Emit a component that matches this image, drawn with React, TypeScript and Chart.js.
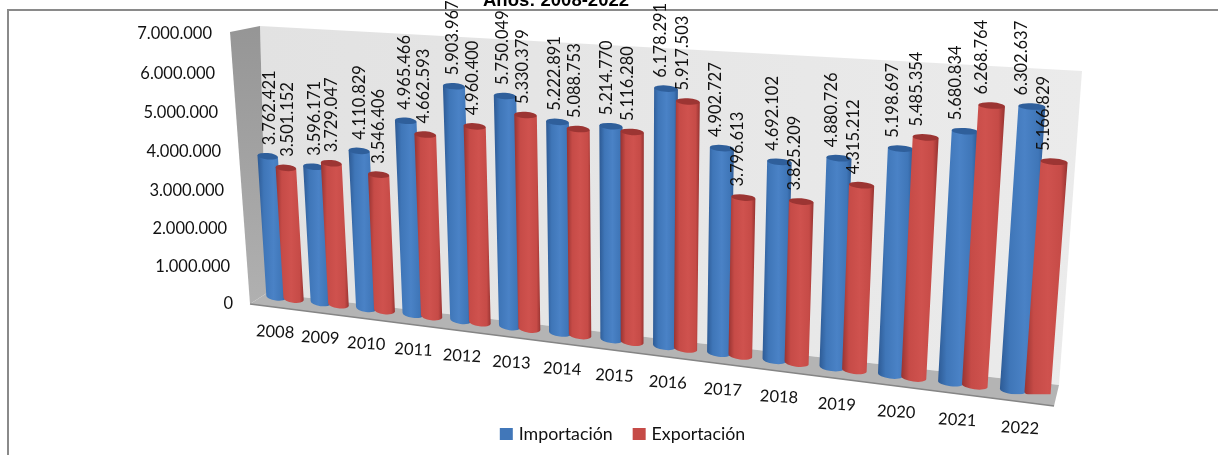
import React, { useEffect, useRef } from "react";
import { Chart, registerables, BarController } from "chart.js";

const years = ["2008","2009","2010","2011","2012","2013","2014","2015","2016","2017","2018","2019","2020","2021","2022"];
const importacion = [3762421,3596171,4110829,4965466,5903967,5750049,5222891,5214770,6178291,4902727,4692102,4880726,5198697,5680834,6302637];
const exportacion = [3501152,3729047,3546406,4662593,4960400,5330379,5088753,5116280,5917503,3796613,3825209,4315212,5485354,6268764,5166829];
const titleText = "Años: 2008-2022";
const seriesNames = ["Importación", "Exportación"];
const axisMax = 7000000;
const axisStep = 1000000;

const FONT = "Lato, Carlito, sans-serif";
const TEXT = "#111111";

// Projected corners of the plane holding the columns: TL, TR, BR, BL
const PLANE = [[246, 29], [1081, 76], [1057, 396], [263, 295]];
// Box of the 3-D chart
const BACK = [[260, 26], [1082, 71], [1059, 385], [267, 293]];
const SIDE = [[230, 32], [260, 26], [267, 293], [250, 304]];
const FLOOR = [[250, 304], [267, 293], [1059, 385], [1054, 406]];

const PAL: Record<string, { light: string; mid: string; dark: string; cap: string }> = {
  blue: { light: "#4a82c6", mid: "#3f76b8", dark: "#2d5a94", cap: "#2f5f9b" },
  red: { light: "#cf524e", mid: "#c64b47", dark: "#973331", cap: "#9c3533" },
};

function makeH(q: number[][]) {
  const [[x0, y0], [x1, y1], [x2, y2], [x3, y3]] = q;
  const dx1 = x1 - x2, dx2 = x3 - x2, sx = x0 - x1 + x2 - x3;
  const dy1 = y1 - y2, dy2 = y3 - y2, sy = y0 - y1 + y2 - y3;
  const den = dx1 * dy2 - dx2 * dy1;
  const g = (sx * dy2 - dx2 * sy) / den;
  const h = (dx1 * sy - sx * dy1) / den;
  const a = x1 - x0 + g * x1, b = x3 - x0 + h * x3;
  const d = y1 - y0 + g * y1, e = y3 - y0 + h * y3;
  return (s: number, t: number) => {
    const w = g * s + h * t + 1;
    return { x: (a * s + b * t + x0) / w, y: (d * s + e * t + y0) / w };
  };
}
const H = makeH(PLANE);
const project = (area: any, x: number, y: number) =>
  H((x - area.left) / (area.right - area.left), (y - area.top) / (area.bottom - area.top));

function poly(ctx: CanvasRenderingContext2D, pts: number[][], fill: any) {
  ctx.beginPath();
  pts.forEach((p, i) => (i ? ctx.lineTo(p[0], p[1]) : ctx.moveTo(p[0], p[1])));
  ctx.closePath();
  ctx.fillStyle = fill;
  ctx.fill();
}

function drawCylinder(ctx: CanvasRenderingContext2D, area: any, bar: any, pal: any) {
  const { x, y, base, width } = bar;
  const cT = project(area, x, y), cB = project(area, x, base);
  const lT = project(area, x - width / 2, y), rT = project(area, x + width / 2, y);
  const lB = project(area, x - width / 2, base), rB = project(area, x + width / 2, base);
  const wT = Math.hypot(rT.x - lT.x, rT.y - lT.y) * 0.77 + 7;
  const wB = Math.hypot(rB.x - lB.x, rB.y - lB.y) * 0.77 + 7;
  const aT = Math.atan2(rT.y - lT.y, rT.x - lT.x);
  const aB = Math.atan2(rB.y - lB.y, rB.x - lB.x);
  const gr = (cx: number, w: number) => {
    const g = ctx.createLinearGradient(cx - w / 2, 0, cx + w / 2, 0);
    g.addColorStop(0, pal.dark);
    g.addColorStop(0.22, pal.mid);
    g.addColorStop(0.55, pal.light);
    g.addColorStop(0.85, pal.mid);
    g.addColorStop(1, pal.dark);
    return g;
  };
  ctx.save();
  ctx.beginPath();
  ctx.ellipse(cB.x, cB.y, wB / 2, 3.8, aB, 0, Math.PI);
  ctx.lineTo(cT.x - (wT / 2) * Math.cos(aT), cT.y - (wT / 2) * Math.sin(aT));
  ctx.lineTo(cT.x + (wT / 2) * Math.cos(aT), cT.y + (wT / 2) * Math.sin(aT));
  ctx.closePath();
  ctx.fillStyle = gr((cB.x + cT.x) / 2, (wB + wT) / 2 + Math.abs(cB.x - cT.x));
  ctx.fill();
  ctx.beginPath();
  ctx.ellipse(cT.x, cT.y, wT / 2, 3.2, aT, 0, Math.PI * 2);
  ctx.fillStyle = pal.cap;
  ctx.fill();
  ctx.restore();
}

class CylinderController extends BarController {
  static id = "cylinder";
  static defaults = BarController.defaults;
  static overrides = BarController.overrides;
  draw() {
    // The chart draws the last dataset first; the red series must sit in front.
    if ((this as any).index !== 0) return;
    const chart: any = this.chart;
    const ctx = chart.ctx;
    chart.getSortedVisibleDatasetMetas().forEach((meta: any, i: number) => {
      const pal = i === 0 ? PAL.blue : PAL.red;
      meta.data.forEach((bar: any) => drawCylinder(ctx, chart.chartArea, bar, pal));
    });
  }
}

Chart.register(...registerables, CylinderController as any);

const fmt = (v: number) => String(Math.round(v)).replace(/\B(?=(\d{3})+$)/g, ".");

const box3d = {
  id: "box3d",
  beforeDraw(chart: any) {
    const ctx = chart.ctx;
    ctx.save();
    ctx.strokeStyle = "#8a8a8a";
    ctx.lineWidth = 2;
    ctx.strokeRect(8, 10, 1400, 700);
    ctx.restore();
  },
  beforeDatasetsDraw(chart: any) {
    const ctx = chart.ctx;
    ctx.save();
    const bg = ctx.createLinearGradient(260, 0, 1082, 0);
    bg.addColorStop(0, "#e2e2e2");
    bg.addColorStop(1, "#ebebeb");
    poly(ctx, BACK, bg);
    const sg = ctx.createLinearGradient(0, 30, 0, 300);
    sg.addColorStop(0, "#969696");
    sg.addColorStop(1, "#b0b0b0");
    poly(ctx, SIDE, sg);
    poly(ctx, FLOOR, "#b4b4b4");
    ctx.beginPath();
    ctx.moveTo(FLOOR[0][0], FLOOR[0][1]);
    ctx.lineTo(FLOOR[3][0], FLOOR[3][1]);
    ctx.strokeStyle = "#858585";
    ctx.lineWidth = 1.5;
    ctx.stroke();
    ctx.restore();
  },
  afterDatasetsDraw(chart: any) {
    const ctx = chart.ctx;
    const area = chart.chartArea;
    const xs = chart.scales.x;
    const ys = chart.scales.y;
    ctx.save();
    ctx.fillStyle = TEXT;
    ctx.font = `16.5px ${FONT}`;

    // Value axis labels, following the front edge of the side wall
    ctx.textAlign = "right";
    ctx.textBaseline = "middle";
    ys.ticks.forEach((tick: any) => {
      const py = ys.getPixelForValue(tick.value);
      const p = project(area, area.left, py);
      const k = (py - area.top) / (area.bottom - area.top);
      ctx.fillText(fmt(tick.value), p.x - 34 + 4 * k, p.y + 4.5 + 4 * k);
    });

    // Category labels below the floor
    years.forEach((label, i) => {
      const px = xs.getPixelForValue(i);
      const s = (px - area.left) / (area.right - area.left);
      const p = project(area, px, area.bottom);
      ctx.save();
      ctx.translate(p.x - 10 + 5 * s, p.y + 34 + 2 * s);
      ctx.rotate((3 * Math.PI) / 180);
      ctx.textAlign = "center";
      ctx.fillText(label, 0, 0);
      ctx.restore();
    });

    // Value labels above each column
    chart.getSortedVisibleDatasetMetas().forEach((meta: any) => {
      const vals = chart.data.datasets[meta.index].data;
      meta.data.forEach((bar: any, i: number) => {
        const s = (bar.x - area.left) / (area.right - area.left);
        const p = project(area, bar.x, bar.y);
        ctx.save();
        ctx.translate(p.x + 2 - 12.6 * s, p.y - 11);
        ctx.rotate(-Math.PI / 2);
        ctx.textAlign = "left";
        ctx.fillText(fmt(vals[i]), 0, 0);
        ctx.restore();
      });
    });
    ctx.restore();
  },
};

export default function App() {
  const ref = useRef<HTMLCanvasElement>(null);
  useEffect(() => {
    const chart = new Chart(ref.current as HTMLCanvasElement, {
      type: "cylinder" as any,
      data: {
        labels: years,
        datasets: [
          { label: seriesNames[0], data: importacion, backgroundColor: "#4177b9", borderColor: "#4177b9", borderWidth: 6 },
          { label: seriesNames[1], data: exportacion, backgroundColor: "#c64b47", borderColor: "#c64b47", borderWidth: 6 },
        ],
      },
      options: {
        animation: false,
        responsive: false,
        categoryPercentage: 0.78,
        barPercentage: 1,
        layout: { padding: { left: 30, right: 0, top: 0, bottom: 2 } },
        scales: {
          x: {
            type: "category",
            grid: { display: false },
            border: { display: false },
            ticks: { display: false },
          },
          y: {
            type: "linear",
            position: "right",
            min: 0,
            max: axisMax,
            grid: { display: false },
            border: { display: false },
            ticks: { display: false, stepSize: axisStep },
            afterFit: (scale: any) => { scale.width = 136; },
          },
        },
        plugins: {
          tooltip: { enabled: false },
          title: {
            display: true,
            text: titleText,
            fullSize: false,
            color: "#000",
            font: { family: "'Liberation Sans', Arial, sans-serif", size: 18.5, weight: "bold" },
            padding: { top: -10, bottom: 0 },
          },
          legend: {
            position: "bottom",
            labels: {
              color: TEXT,
              font: { family: FONT, size: 17.8 },
              boxWidth: 7,
              boxHeight: 6,
              padding: 23,
            },
          },
        },
      } as any,
      plugins: [box3d],
    });
    return () => chart.destroy();
  }, []);
  return (
    <canvas
      ref={ref}
      width={1218}
      height={455}
      style={{ position: "fixed", left: 0, top: 0, width: 1218, height: 455 }}
    />
  );
}
